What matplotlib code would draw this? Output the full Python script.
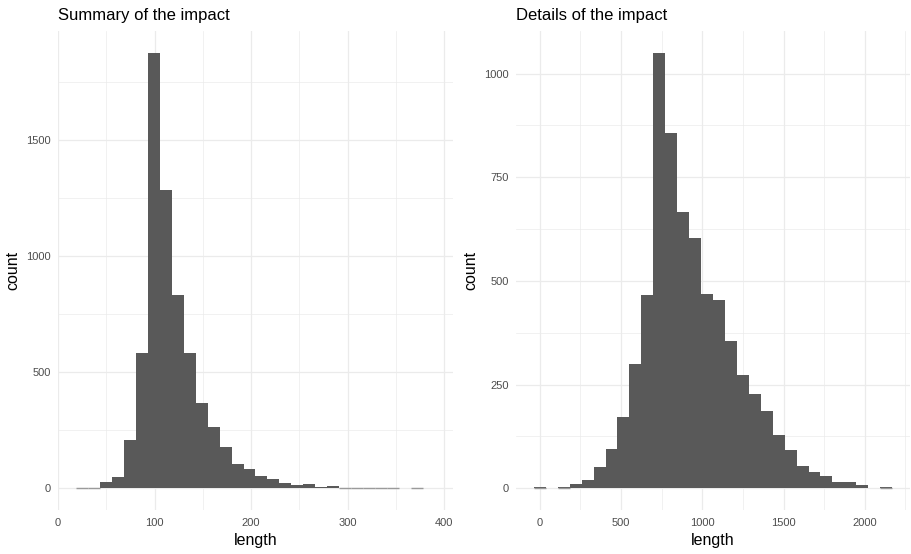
import matplotlib.pyplot as plt
import numpy as np

# left panel: 30 bins of "length" (summary)
SUMMARY_START = 18.6
SUMMARY_WIDTH = 12.4
SUMMARY_COUNTS = [2, 3, 27, 50, 207, 584, 1877, 1286, 834, 584,
                  366, 266, 176, 105, 84, 52, 38, 24, 14, 20,
                  6, 8, 3, 3, 2, 2, 1, 0, 1, 0]

# right panel: 30 bins of "length" (details)
DETAILS_START = -36.75
DETAILS_WIDTH = 73.5
DETAILS_COUNTS = [2, 0, 4, 9, 20, 51, 94, 172, 299, 465,
                  1050, 856, 665, 604, 468, 454, 355, 274, 228, 186,
                  129, 93, 54, 39, 29, 16, 14, 8, 0, 2]

SUMMARY_XTICKS = [0, 100, 200, 300, 400]
SUMMARY_YTICKS = [0, 500, 1000, 1500]
DETAILS_XTICKS = [0, 500, 1000, 1500, 2000]
DETAILS_YTICKS = [0, 250, 500, 750, 1000]

BAR_COLOR = "#595959"
GRID_COLOR = "#EBEBEB"


def minor_inside(ticks, lo, hi):
    step = ticks[1] - ticks[0]
    m = np.arange(ticks[0] - step * 1.5, ticks[-1] + step * 2, step)
    return m[(m > lo) & (m < hi)]


def draw_hist(ax, start, width, counts, xticks, yticks, title):
    counts = np.array(counts)
    edges = start + width * np.arange(len(counts) + 1)
    ax.bar(edges[:-1], counts, width=width, align="edge",
           color=BAR_COLOR, linewidth=0, zorder=2)
    # very small bins still show as a faint line, like the reference
    small = (counts > 0) & (counts < 5)
    ax.hlines(np.zeros(small.sum()) + 1, edges[:-1][small], edges[1:][small],
              color="#9A9A9A", linewidth=1.0, zorder=2)

    # ggplot-like 5% expansion
    xr = edges[-1] - edges[0]
    xlo, xhi = edges[0] - 0.05 * xr, edges[-1] + 0.05 * xr
    ymax = counts.max()
    ylo, yhi = -0.05 * ymax, 1.05 * ymax

    ax.set_xticks(xticks)
    ax.set_yticks(yticks)
    ax.set_xticks(minor_inside(xticks, xlo, xhi), minor=True)
    ax.set_yticks(minor_inside(yticks, ylo, yhi), minor=True)
    ax.set_xlim(xlo, xhi)
    ax.set_ylim(ylo, yhi)

    ax.grid(which="major", color=GRID_COLOR, linewidth=0.9, zorder=0)
    ax.grid(which="minor", color=GRID_COLOR, linewidth=0.5, zorder=0)
    ax.set_axisbelow(True)
    for s in ax.spines.values():
        s.set_visible(False)
    ax.tick_params(which="both", length=0, labelsize=8, labelcolor="#4D4D4D")
    ax.tick_params(axis="x", pad=6)
    ax.tick_params(axis="y", pad=5)

    ax.set_xlabel("length", fontsize=11.5, labelpad=3)
    ax.set_ylabel("count", fontsize=11.5, labelpad=4)
    ax.set_title(title, loc="left", fontsize=12, pad=8)


def plot():
    plt.rcParams["font.family"] = ["Liberation Sans", "DejaVu Sans"]
    fig = plt.figure(figsize=(9.11, 5.54), dpi=100)

    ax1 = fig.add_axes([58 / 911, 44 / 554, 395 / 911, 479 / 554])
    ax2 = fig.add_axes([516 / 911, 44 / 554, 394 / 911, 479 / 554])

    draw_hist(ax1, SUMMARY_START, SUMMARY_WIDTH, SUMMARY_COUNTS,
              SUMMARY_XTICKS, SUMMARY_YTICKS, "Summary of the impact")
    draw_hist(ax2, DETAILS_START, DETAILS_WIDTH, DETAILS_COUNTS,
              DETAILS_XTICKS, DETAILS_YTICKS, "Details of the impact")

    fig.savefig("out.png", dpi=100)


if __name__ == "__main__":
    plot()
